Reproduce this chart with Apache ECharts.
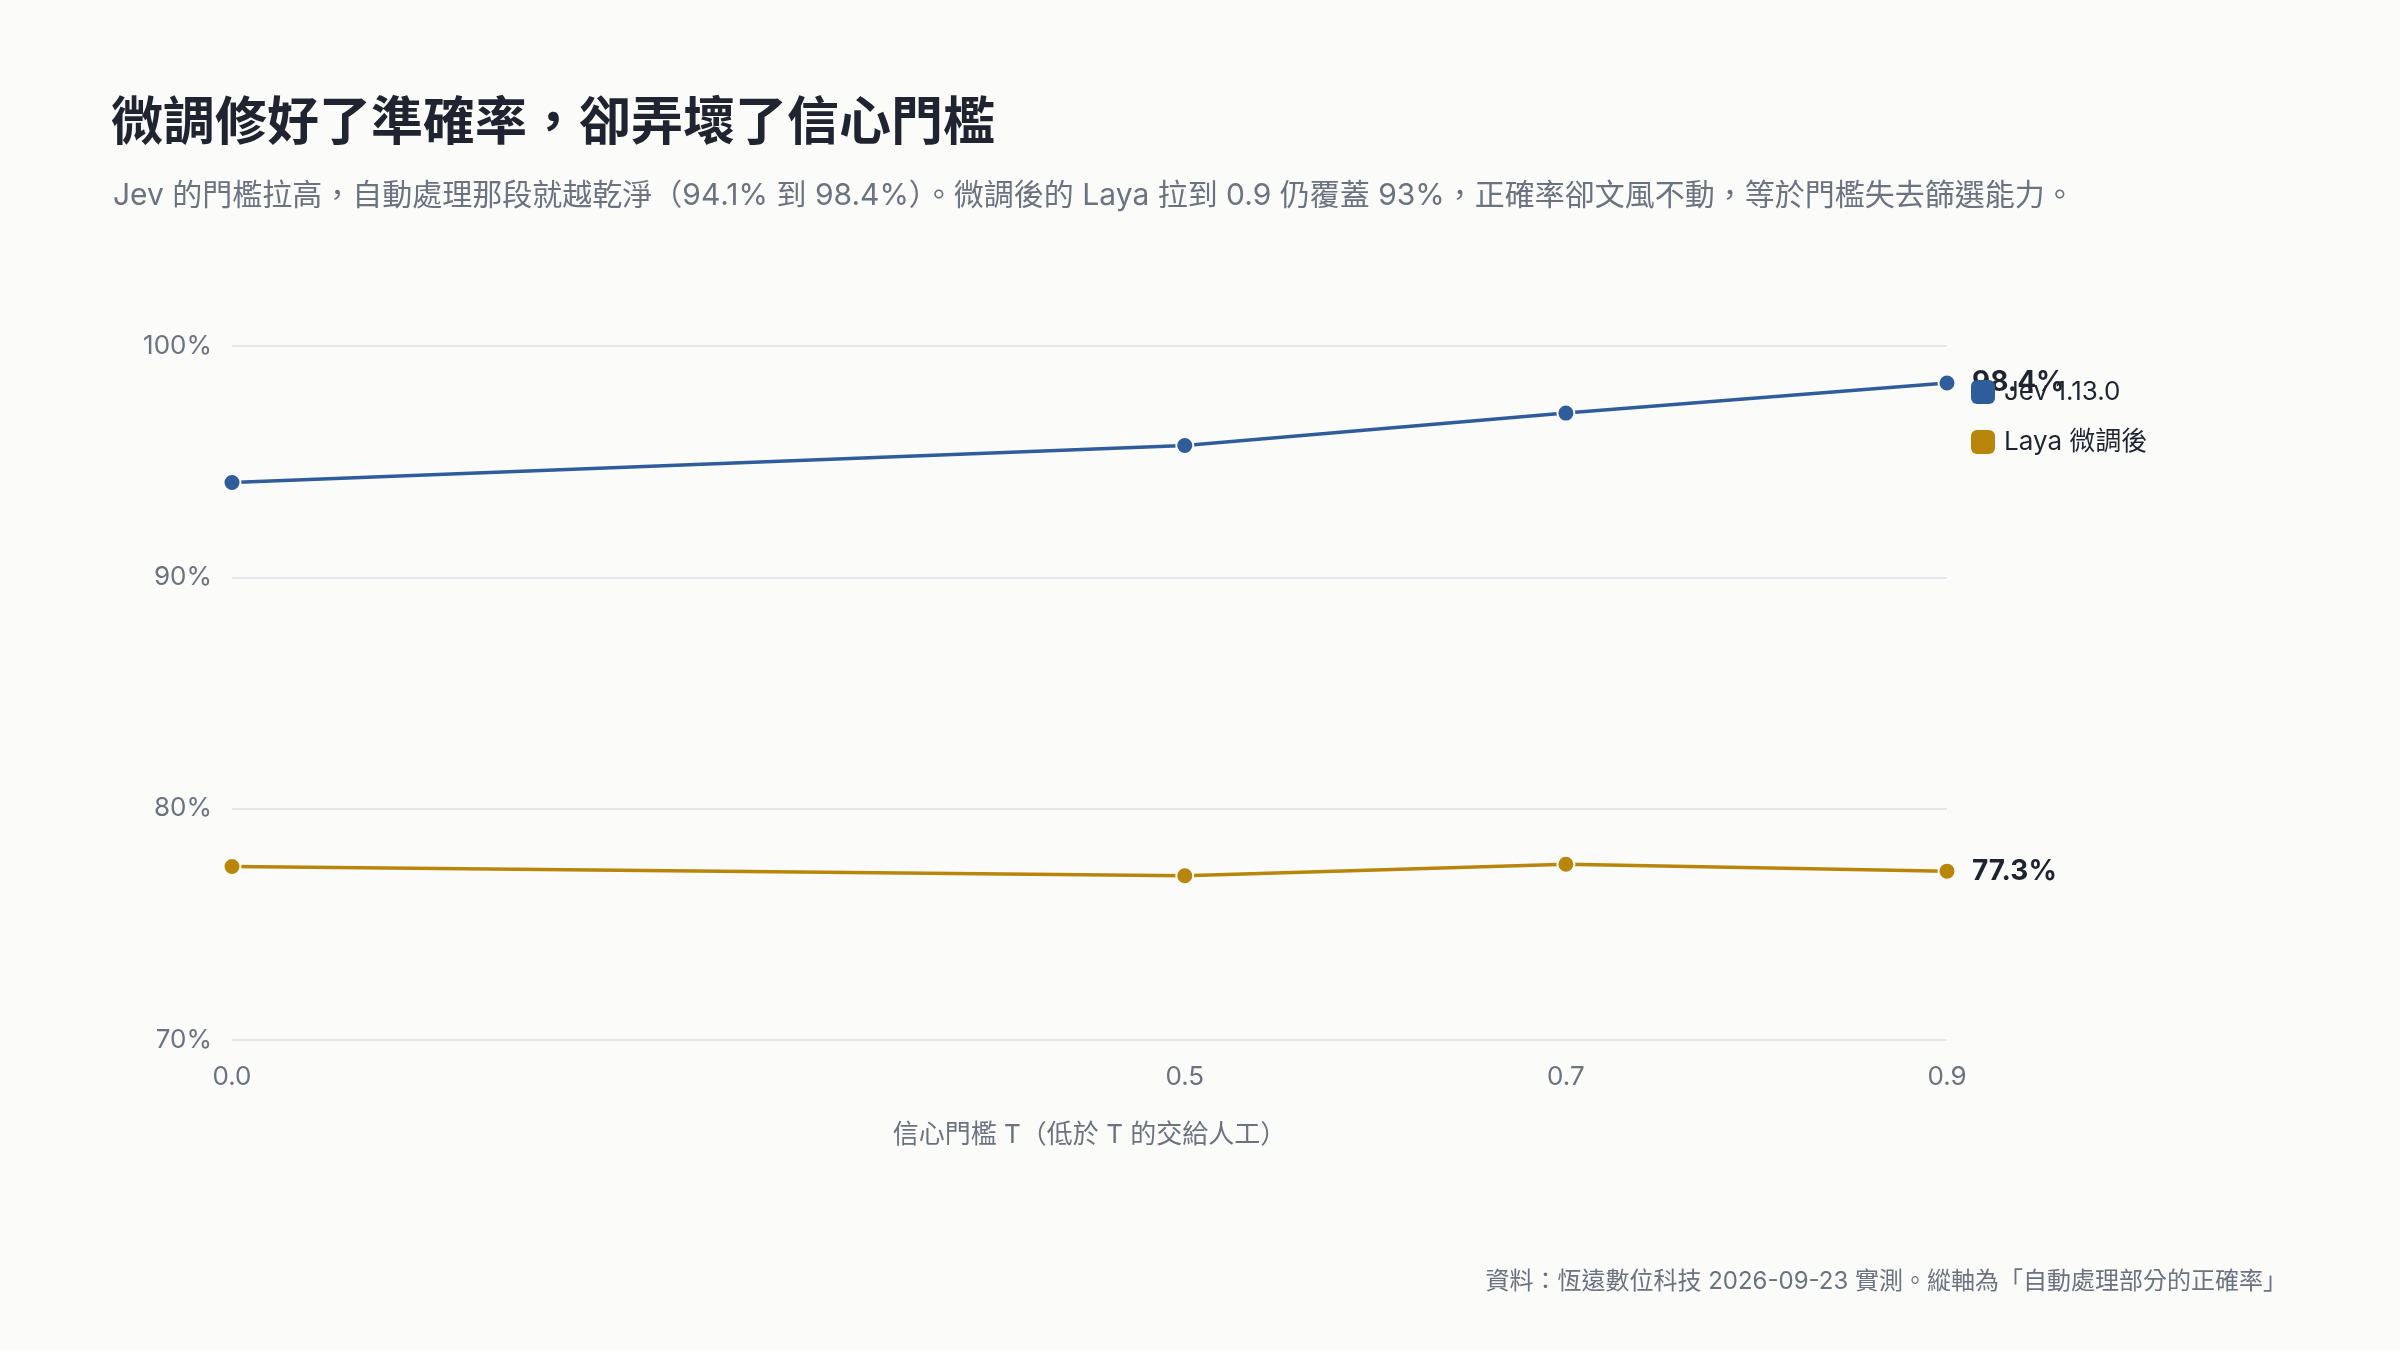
<!DOCTYPE html>
<html>
<head>
<meta charset="utf-8">
<script src="https://cdn.jsdelivr.net/npm/echarts@6/dist/echarts.min.js"></script>
<style>
  html, body { margin: 0; padding: 0; background: #fbfbf9; }
  #chart { width: 2400px; height: 1350px; }
</style>
</head>
<body>
<div id="chart"></div>
<script>
// Threshold T values (x) and accuracy on auto-handled part (%)
const thresholds = [0.0, 0.5, 0.7, 0.9];
const jevValues = [94.1, 95.7, 97.1, 98.4];
const layaValues = [77.5, 77.1, 77.6, 77.3];
const seriesNames = ['Jev 1.13.0', 'Laya 微調後'];
const yTicks = [70, 80, 90, 100];

const FONT = 'Inter, "Noto Sans CJK TC", "Noto Sans", sans-serif';
const BLUE = '#2f5d9c';
const GOLD = '#b8860b';
const TEXT = '#1f2430';
const MUTED = '#6b7280';

function pairs(xs, ys) {
    return xs.map((x, i) => [x, ys[i]]);
}

function lineSeries(name, color, values) {
    return {
        name,
        type: 'line',
        data: pairs(thresholds, values),
        symbol: 'circle',
        symbolSize: 17,
        lineStyle: { color, width: 3.5 },
        itemStyle: { color, borderColor: '#fbfbf9', borderWidth: 2 },
        endLabel: {
            show: true,
            distance: 25,
            formatter: (p) => p.value[1].toFixed(1) + '%',
            color: TEXT,
            fontFamily: FONT,
            fontSize: 28,
            fontWeight: 'bold',
        },
        emphasis: { disabled: true },
    };
}

const chart = echarts.init(document.getElementById('chart'), null, { renderer: 'canvas' });
chart.setOption({
    backgroundColor: '#fbfbf9',
    animation: false,
    textStyle: { fontFamily: FONT },
    title: [
        {
            text: '微調修好了準確率，卻弄壞了信心門檻',
            left: 106, top: 93,
            textStyle: { color: TEXT, fontSize: 52, fontWeight: 'bold', fontFamily: FONT },
        },
        {
            text: 'Jev 的門檻拉高，自動處理那段就越乾淨（94.1% 到 98.4%）。微調後的 Laya 拉到 0.9 仍覆蓋 93%，正確率卻文風不動，等於門檻失去篩選能力。',
            left: 108, top: 176,
            textStyle: { color: MUTED, fontSize: 30, fontWeight: 'normal', fontFamily: FONT },
        },
        {
            text: '資料：恆遠數位科技 2026-09-23 實測。縱軸為「自動處理部分的正確率」',
            right: 108, top: 1265,
            textStyle: { color: MUTED, fontSize: 24, fontWeight: 'normal', fontFamily: FONT },
        },
    ],
    legend: {
        orient: 'vertical',
        left: 1966, top: 374,
        icon: 'roundRect',
        itemWidth: 24, itemHeight: 24, itemGap: 24,
        data: seriesNames,
        itemStyle: { borderWidth: 0 },
        textStyle: { color: TEXT, fontSize: 26, fontFamily: FONT, padding: [0, 0, 0, 4] },
    },
    grid: { left: 232, right: 453, top: 346, bottom: 310 },
    xAxis: {
        type: 'value',
        min: 0, max: 0.9,
        name: '信心門檻 T（低於 T 的交給人工）',
        nameLocation: 'middle',
        nameGap: 82,
        nameTextStyle: { color: MUTED, fontSize: 26, fontFamily: FONT },
        axisLine: { show: false },
        axisTick: { show: false, customValues: thresholds },
        splitLine: { show: false },
        axisLabel: {
            customValues: thresholds,
            formatter: (v) => v.toFixed(1),
            color: MUTED, fontSize: 26, margin: 24, fontFamily: FONT,
        },
    },
    yAxis: {
        type: 'value',
        min: yTicks[0], max: yTicks[yTicks.length - 1], interval: 10,
        axisLine: { show: false },
        axisTick: { show: false },
        splitLine: { lineStyle: { color: '#e6e7ea', width: 2 } },
        axisLabel: {
            formatter: '{value}%',
            color: MUTED, fontSize: 26, margin: 20, fontFamily: FONT,
        },
    },
    series: [
        lineSeries(seriesNames[0], BLUE, jevValues),
        lineSeries(seriesNames[1], GOLD, layaValues),
    ],
});
</script>
</body>
</html>
